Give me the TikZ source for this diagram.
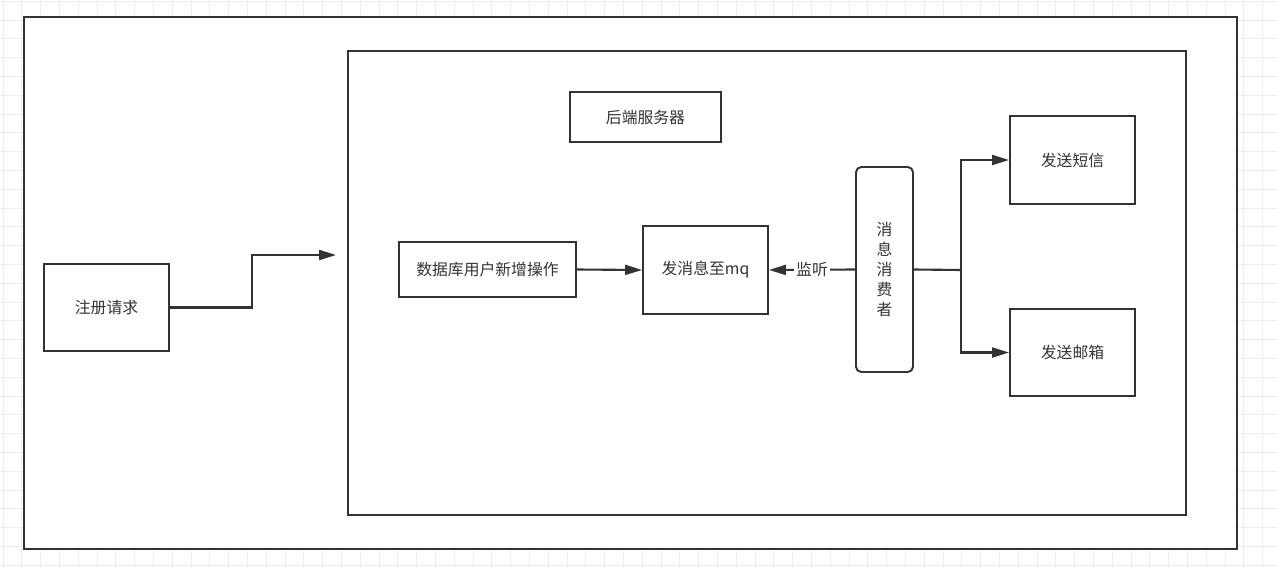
\documentclass[tikz,border=0pt]{standalone}
\usepackage{fontspec}
\setmainfont{Noto Sans CJK SC}
\usetikzlibrary{arrows.meta,positioning}

\definecolor{ink}{HTML}{333333}
\definecolor{gridgray}{HTML}{EDEDED}

\begin{document}
\begin{tikzpicture}[
    x=0.02cm, y=-0.02cm,
    box/.style={draw=ink, line width=1.1pt, fill=white, inner sep=0pt, font=\fontsize{9}{11.5}\selectfont, text=ink, align=center},
    frame/.style={draw=ink, line width=1.1pt},
    arr/.style={-{Triangle[length=0.34cm, width=0.2cm]}, line width=1.2pt, draw=ink},
    wire/.style={line width=1.2pt, draw=ink},
    gridline/.style={draw=gridgray, line width=0.5pt}
]
\useasboundingbox (0,0) rectangle (1277,568);
\fill[white] (0,0) rectangle (1277,568);

% background grid
\foreach \gx in {3,21.8,...,1277} \draw[gridline] (\gx,0) -- (\gx,568);
\foreach \gy in {1.2,20,...,568} \draw[gridline] (0,\gy) -- (1277,\gy);

% frames
\draw[frame, fill=white] (24,17) rectangle (1237,549);
\draw[frame] (348,51) rectangle (1186,515);

% nodes
\node[box, minimum width=125*0.02cm, minimum height=87*0.02cm] (req) at (106.5,307.5) {注册请求};
\node[box, minimum width=151*0.02cm, minimum height=50*0.02cm] (backend) at (645.5,117) {后端服务器};
\node[box, minimum width=177*0.02cm, minimum height=55*0.02cm] (db) at (487.5,269.5) {数据库用户新增操作};
\node[box, minimum width=125*0.02cm, minimum height=88*0.02cm] (mq) at (705.5,270) {发消息至mq};
\node[box, rounded corners=3pt, minimum width=57*0.02cm, minimum height=205*0.02cm] (consumer) at (884.5,269.5) {消\\息\\消\\费\\者};
\node[box, minimum width=125*0.02cm, minimum height=88*0.02cm] (sms) at (1072.5,160) {发送短信};
\node[box, minimum width=125*0.02cm, minimum height=87*0.02cm] (mail) at (1072.5,352.5) {发送邮箱};
\coordinate (entry) at (336,255);
\coordinate (split) at (961,270);

% connectors
\draw[arr] (req.east) -- ++(82,0) |- (entry);
\draw[arr] (db.east) -- (mq.west);
\draw[arr] (consumer.west) -- node[fill=white, inner sep=1pt, font=\fontsize{9}{10}\selectfont, text=ink] (listen) {监听} (mq.east);
\draw[wire] (consumer.east) -- (split);
\draw[arr] (split) |- (sms.west);
\draw[arr] (split) |- (mail.west);
\end{tikzpicture}
\end{document}
